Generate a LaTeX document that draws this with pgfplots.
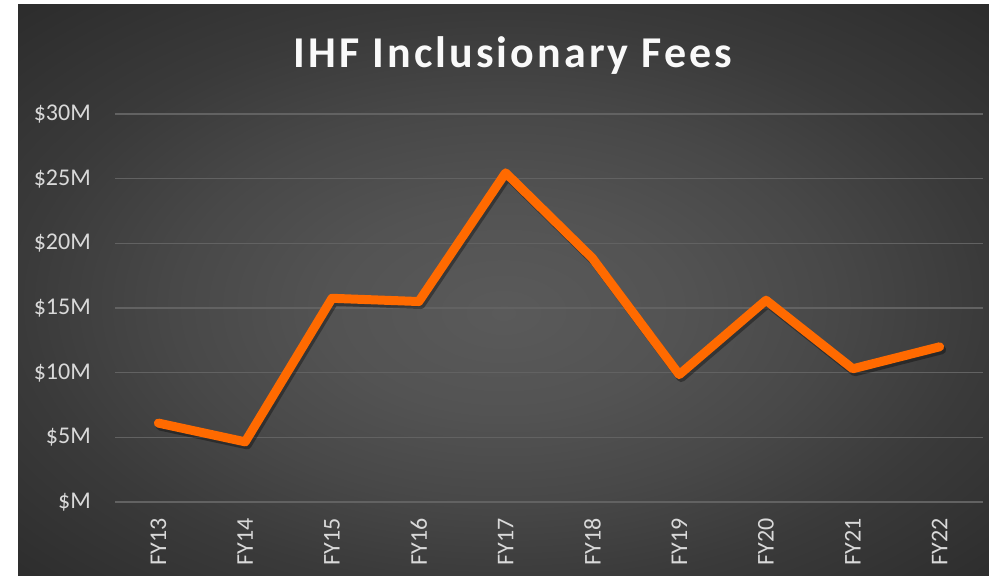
\documentclass[border=0pt]{standalone}
\usepackage{pgfplots}
\pgfplotsset{compat=1.18}
\usepackage{fontspec}
\setmainfont{Carlito}
\definecolor{gridc}{HTML}{626262}
\definecolor{labc}{HTML}{D9D9D9}
\definecolor{linec}{HTML}{FF6A00}
\pgfdeclareradialshading{bgshade}{\pgfpoint{0bp}{-2bp}}{%
  color(0bp)=(rgb,255:red,90;green,90;blue,90);
  color(9bp)=(rgb,255:red,83;green,83;blue,83);
  color(17bp)=(rgb,255:red,72;green,72;blue,72);
  color(25bp)=(rgb,255:red,58;green,58;blue,58);
  color(36bp)=(rgb,255:red,44;green,44;blue,44);
  color(50bp)=(rgb,255:red,44;green,44;blue,44)}
\begin{document}
\begin{tikzpicture}[x=1bp,y=1bp]
\useasboundingbox (0,0) rectangle (989,576);
\fill[white] (0,0) rectangle (989,576);
\shade[shading=bgshade] (18,0) rectangle (989,571);
\node[text=white!95!gray, font=\fontsize{44bp}{50bp}\selectfont\bfseries\addfontfeatures{LetterSpace=7}] at (513,520) {IHF Inclusionary Fees};
\begin{axis}[at={(115bp,74bp)}, anchor=south west, scale only axis,
  width=868bp, height=388bp,
  xmin=-0.5, xmax=9.5, ymin=0, ymax=30,
  axis line style={draw=none}, major tick length=0pt,
  ytick={0,5,10,15,20,25,30},
  yticklabels={\$M,\$5M,\$10M,\$15M,\$20M,\$25M,\$30M},
  xtick={0,1,2,3,4,5,6,7,8,9},
  xticklabels={FY13,FY14,FY15,FY16,FY17,FY18,FY19,FY20,FY21,FY22},
  ymajorgrids, grid style={draw=gridc, line width=1.5bp},
  yticklabel style={font=\fontsize{24bp}{28bp}\selectfont, text=labc, inner sep=0pt, anchor=east, xshift=-24bp},
  xticklabel style={font=\fontsize{24bp}{28bp}\selectfont, text=labc, inner sep=0pt, rotate=90, anchor=east, xshift=-16bp},
  clip=false]
\addplot[black, opacity=0.35, line width=9bp, line cap=round, line join=round, shift={(2bp,-3bp)}] coordinates {
(0,6.1) (1,4.65) (2,15.75) (3,15.5) (4,25.45) (5,18.85) (6,9.85) (7,15.6) (8,10.3) (9,12.0)};
\addplot[linec, line width=9bp, line cap=round, line join=round] coordinates {
(0,6.1) (1,4.65) (2,15.75) (3,15.5) (4,25.45) (5,18.85) (6,9.85) (7,15.6) (8,10.3) (9,12.0)};
\end{axis}
\end{tikzpicture}
\end{document}
